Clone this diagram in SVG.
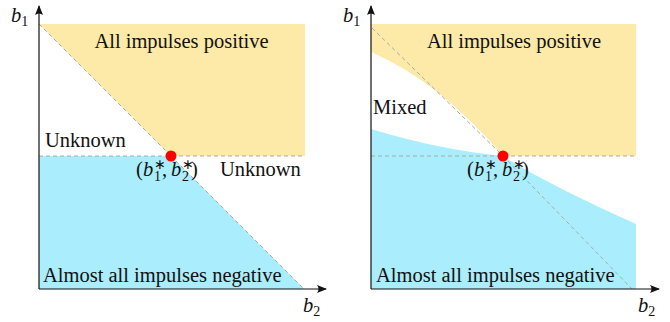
<svg xmlns="http://www.w3.org/2000/svg" width="670" height="322" viewBox="0 0 670 322">
<style>
.t{font-family:"Liberation Serif","Times New Roman",serif;font-size:20.5px;fill:#111}
.m{font-style:italic}
.s{font-size:14px;font-style:normal}
.yel{fill:#FDEAA8}
.blu{fill:#AAEDFC}
.dash{stroke:#AAAAAA;stroke-width:1;stroke-dasharray:4 3;fill:none}
.ax{stroke:#111;stroke-width:1.2;fill:none}
</style>
<defs>
<marker id="arr" viewBox="0 0 10 8" refX="9" refY="4" markerWidth="10" markerHeight="8" markerUnits="userSpaceOnUse" orient="auto">
<path d="M0,0 Q3,4 0,8 L10,4 Z" fill="#111"/>
</marker>
</defs>
<g id="left-panel">
<g id="left-regions">
<polygon id="left-positive" class="yel" points="39,24 305,24 305,156 171,156"/>
<polygon id="left-negative" class="blu" points="39,156 171,156 304,289 39,289"/>
</g>
<g id="left-connectors">
<line class="dash" x1="39" y1="24" x2="171" y2="156"/>
<line class="dash" x1="171" y1="156" x2="304" y2="289"/>
<line class="dash" x1="39" y1="156" x2="305" y2="156"/>
<line class="ax" x1="39" y1="289" x2="39" y2="6" marker-end="url(#arr)"/>
<line class="ax" x1="39" y1="289" x2="326" y2="289" marker-end="url(#arr)"/>
</g>
<g id="left-point"><circle cx="171" cy="156" r="5.5" fill="#FF0000"/></g>
<g id="left-labels">
<text class="t" x="11" y="22"><tspan class="m">b</tspan><tspan class="s" dy="4">1</tspan></text>
<text class="t" x="303" y="312"><tspan class="m">b</tspan><tspan class="s" dy="4">2</tspan></text>
<text class="t" x="181.5" y="48" text-anchor="middle">All impulses positive</text>
<text class="t" x="45" y="147">Unknown</text>
<text class="t" x="220" y="176">Unknown</text>
<text class="t" x="43" y="282">Almost all impulses negative</text>
<text class="t" y="176"><tspan x="136">(</tspan><tspan class="m" x="143">b</tspan><tspan class="s" x="154" dy="-7">∗</tspan><tspan class="s" x="154" dy="12">1</tspan><tspan x="162" dy="-5">,</tspan><tspan class="m" x="171">b</tspan><tspan class="s" x="182" dy="-7">∗</tspan><tspan class="s" x="182" dy="12">2</tspan><tspan x="191" dy="-5">)</tspan></text>
</g>
</g>
<g id="right-panel">
<g id="right-regions">
<path id="right-positive" class="yel" d="M371,24 L636,24 L636,156 L503,156 Q440,82 371,52 Z"/>
<path id="right-negative" class="blu" d="M371,129 Q440,150 503,156 Q545,183 636,224 L636,289 L371,289 Z"/>
</g>
<g id="right-connectors">
<line class="dash" x1="372" y1="28" x2="503" y2="156"/>
<line class="dash" x1="503" y1="156" x2="632" y2="289"/>
<line class="dash" x1="371" y1="156" x2="636" y2="156"/>
<line class="ax" x1="371" y1="289" x2="371" y2="6" marker-end="url(#arr)"/>
<line class="ax" x1="371" y1="289" x2="659" y2="289" marker-end="url(#arr)"/>
</g>
<g id="right-point"><circle cx="503" cy="156" r="5.5" fill="#FF0000"/></g>
<g id="right-labels">
<text class="t" x="343" y="22"><tspan class="m">b</tspan><tspan class="s" dy="4">1</tspan></text>
<text class="t" x="638" y="312"><tspan class="m">b</tspan><tspan class="s" dy="4">2</tspan></text>
<text class="t" x="514" y="48" text-anchor="middle">All impulses positive</text>
<text class="t" x="373" y="114">Mixed</text>
<text class="t" x="376" y="282">Almost all impulses negative</text>
<text class="t" y="176"><tspan x="467">(</tspan><tspan class="m" x="474">b</tspan><tspan class="s" x="485" dy="-7">∗</tspan><tspan class="s" x="485" dy="12">1</tspan><tspan x="493" dy="-5">,</tspan><tspan class="m" x="502">b</tspan><tspan class="s" x="513" dy="-7">∗</tspan><tspan class="s" x="513" dy="12">2</tspan><tspan x="522" dy="-5">)</tspan></text>
</g>
</g>
</svg>
